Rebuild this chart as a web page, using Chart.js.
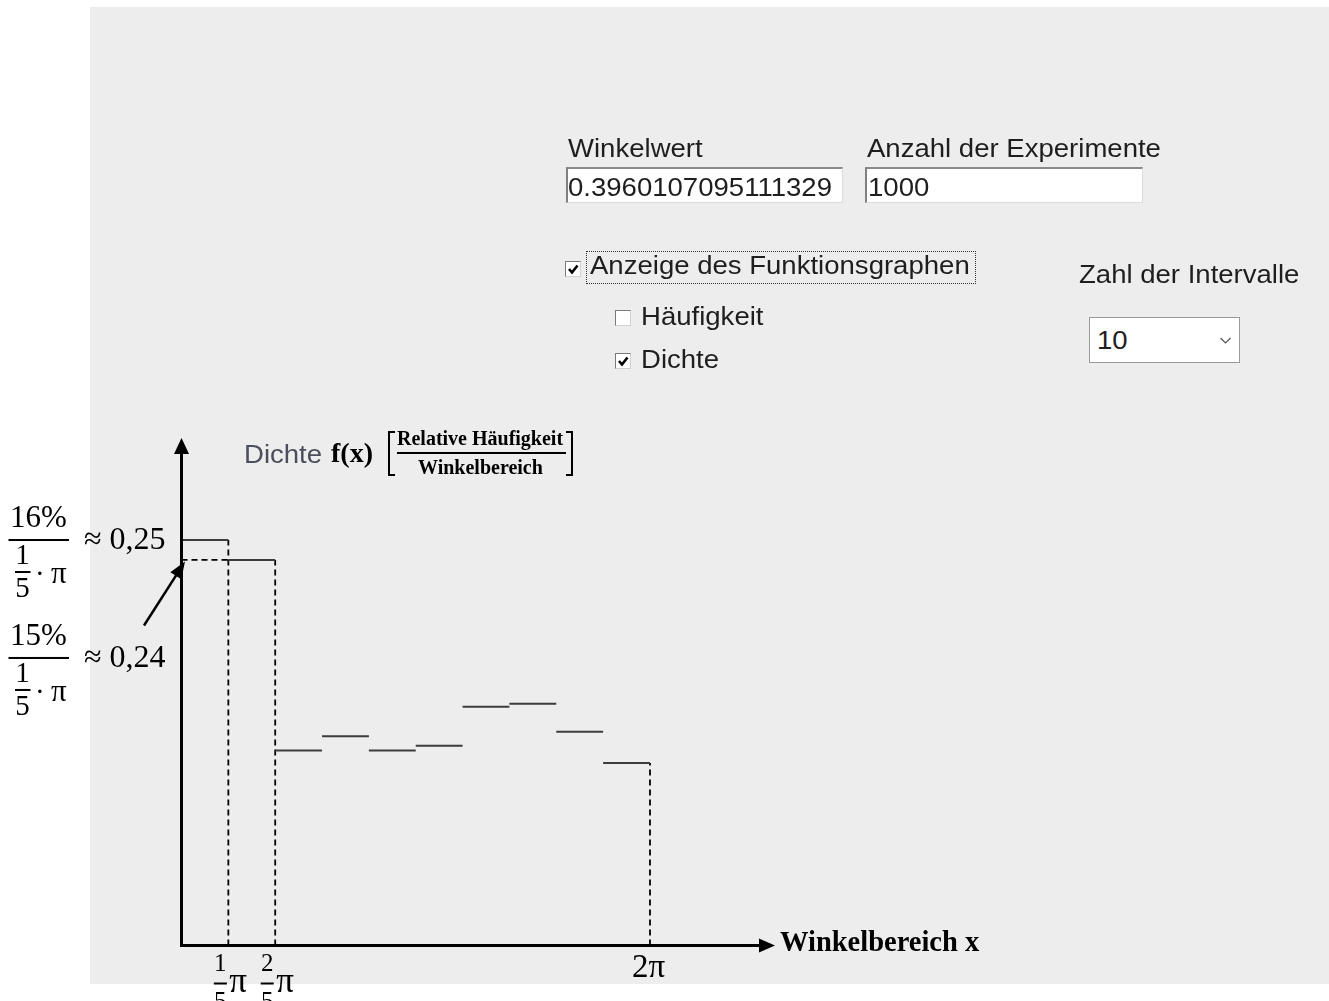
<!DOCTYPE html>
<html><head><meta charset="utf-8">
<script src="https://cdn.jsdelivr.net/npm/chart.js@4.4.0/dist/chart.umd.min.js"></script>
<style>
html,body{margin:0;padding:0;background:#fff;width:1329px;height:1001px;overflow:hidden;position:relative}
#panel{position:absolute;left:90px;top:7px;width:1239px;height:977px;background:#ededed}
#c{position:absolute;left:0;top:0}
.t{position:absolute;font-family:"Liberation Sans",Arial,sans-serif;font-size:25.5px;line-height:25.5px;color:#1e1e1e;white-space:nowrap;transform:scaleX(1.08);transform-origin:0 0}
.s{position:absolute;font-family:"Liberation Serif","Times New Roman",serif;font-weight:bold;color:#000;white-space:nowrap}
.box{position:absolute;background:#fff;box-sizing:border-box}
.tb{border-top:2px solid #8a8a8a;border-left:2px solid #808080;border-right:1px solid #dcdcdc;border-bottom:1px solid #dcdcdc}
.cb{position:absolute;width:16px;height:16px;box-sizing:border-box;background:#fff;border-top:1px solid #7a7a7a;border-left:1px solid #7a7a7a;border-right:1px solid #d0d0d0;border-bottom:1px solid #d0d0d0}
.cb svg{position:absolute;left:1px;top:1px}
.br{position:absolute;box-sizing:border-box;border-top:2px solid #000;border-bottom:2px solid #000}
</style></head>
<body>
<div id="panel"></div>
<canvas id="c" width="1329" height="1001"></canvas>

<span class="t" style="left:568px;top:136.4px">Winkelwert</span>
<span class="t" style="left:867px;top:136.4px">Anzahl der Experimente</span>
<div class="box tb" style="left:566px;top:167px;width:277px;height:36px"></div>
<div class="box tb" style="left:865px;top:167px;width:278px;height:36px"></div>
<span class="t" style="left:568px;top:175.4px">0.3960107095111329</span>
<span class="t" style="left:868px;top:175.4px">1000</span>

<div class="cb" style="left:565px;top:261px"><svg width="13" height="13"><polyline points="2,6 5,9.5 10.5,2.5" fill="none" stroke="#000" stroke-width="2.6"/></svg></div>
<div style="position:absolute;left:586px;top:251px;width:390px;height:33px;box-sizing:border-box;border:1px dotted #333"></div>
<span class="t" style="left:590px;top:252.9px">Anzeige des Funktionsgraphen</span>

<div class="cb" style="left:615px;top:310px"></div>
<span class="t" style="left:641px;top:304.4px">Häufigkeit</span>
<div class="cb" style="left:615px;top:353px"><svg width="13" height="13"><polyline points="2,6 5,9.5 10.5,2.5" fill="none" stroke="#000" stroke-width="2.6"/></svg></div>
<span class="t" style="left:641px;top:347.4px">Dichte</span>

<span class="t" style="left:1079px;top:262.4px">Zahl der Intervalle</span>
<div class="box" style="left:1089px;top:317px;width:151px;height:46px;border:1px solid #9a9a9a"></div>
<span class="t" style="left:1097px;top:328.4px">10</span>
<svg style="position:absolute;left:1219px;top:336px" width="14" height="10"><polyline points="1.5,2 6.5,7 11.5,2" fill="none" stroke="#555" stroke-width="1.2"/></svg>

<span class="t" style="left:244px;top:441.7px;color:#4b4f5c">Dichte</span>
<span class="s" style="left:331px;top:438.5px;font-size:28px;line-height:28px">f(x)</span>
<div class="br" style="left:388px;top:431px;width:7px;height:45px;border-left:2px solid #000"></div>
<div class="br" style="left:566px;top:431px;width:7px;height:45px;border-right:2px solid #000"></div>
<span class="s" style="left:397px;top:428.3px;font-size:20px;line-height:20px">Relative Häufigkeit</span>
<div style="position:absolute;left:397px;top:452px;width:169px;height:2px;background:#000"></div>
<span class="s" style="left:418px;top:456.5px;font-size:20px;line-height:20px">Winkelbereich</span>

<script>
const PI = Math.PI;
const intervalCount = 10;
const densities = [0.2500, 0.2377, 0.1203, 0.1290, 0.1203, 0.1232, 0.1472, 0.1491, 0.1318, 0.1125];
const yTickPercents = ['16%', '15%'];
const yTickApprox = ['0,25', '0,24'];
const yTickDenominator = ['1', '5', 'π'];
const xTickNumerators = ['1', '2'];
const xTickDenominator = '5';
const xTickLast = '2π';
const xAxisTitle = 'Winkelbereich x';

const w = 2 * PI / intervalCount;
const stepData = [];
densities.forEach((d, i) => {
  stepData.push({x: i * w, y: d}, {x: (i + 1) * w, y: d}, {x: (i + 1) * w, y: null});
});
const guideData = [
  {x: 0, y: densities[1]}, {x: w, y: densities[1]}, {x: w, y: null},
  {x: w, y: 0}, {x: w, y: densities[0]}, {x: w, y: null},
  {x: 2 * w, y: 0}, {x: 2 * w, y: densities[1]}, {x: 2 * w, y: null},
  {x: 2 * PI, y: 0}, {x: 2 * PI, y: densities[intervalCount - 1]}
];

const SERIF = '"Liberation Serif","Times New Roman",serif';

const decor = {
  id: 'decor',
  afterDatasetsDraw(chart) {
    const {ctx, chartArea: a, scales: {x, y}} = chart;
    const x0 = x.getPixelForValue(0), y0 = y.getPixelForValue(0);
    ctx.save();
    ctx.fillStyle = '#000'; ctx.strokeStyle = '#000';
    ctx.lineWidth = 3;
    ctx.beginPath(); ctx.moveTo(x0, y0 + 1.5); ctx.lineTo(x0, a.top + 12); ctx.stroke();
    ctx.beginPath(); ctx.moveTo(x0, a.top); ctx.lineTo(x0 - 7.5, a.top + 16); ctx.lineTo(x0 + 7.5, a.top + 16); ctx.closePath(); ctx.fill();
    ctx.beginPath(); ctx.moveTo(x0 - 1.5, y0); ctx.lineTo(a.right - 12, y0); ctx.stroke();
    ctx.beginPath(); ctx.moveTo(a.right, y0); ctx.lineTo(a.right - 16, y0 - 7); ctx.lineTo(a.right - 16, y0 + 7); ctx.closePath(); ctx.fill();

    const bars = [y.getPixelForValue(densities[0]), y.getPixelForValue(densities[1]) + 98];
    bars.forEach((yb, i) => {
      ctx.textBaseline = 'alphabetic';
      ctx.textAlign = 'center';
      ctx.font = '31px ' + SERIF;
      ctx.fillText(yTickPercents[i], 38.5, yb - 13);
      ctx.fillRect(8.5, yb - 1, 60.5, 2);
      ctx.font = '29px ' + SERIF;
      ctx.fillText(yTickDenominator[0], 22.5, yb + 24);
      ctx.fillRect(15, yb + 31, 15.5, 2);
      ctx.fillText(yTickDenominator[1], 22.5, yb + 57);
      ctx.textAlign = 'left';
      ctx.fillText('·', 35, yb + 43);
      ctx.font = '31px ' + SERIF;
      ctx.fillText(yTickDenominator[2], 51, yb + 43);
      ctx.font = '32px ' + SERIF;
      ctx.fillText('≈ ' + yTickApprox[i], 84, yb + 9);
    });

    const tipX = x0 + 3.5, tipY = y.getPixelForValue(densities[1]) + 1.5;
    const tailX = x0 - 37.5, tailY = tipY + 64;
    ctx.lineWidth = 2.5;
    const ang = Math.atan2(tipY - tailY, tipX - tailX);
    ctx.beginPath(); ctx.moveTo(tailX, tailY); ctx.lineTo(tipX - 12 * Math.cos(ang), tipY - 12 * Math.sin(ang)); ctx.stroke();
    ctx.beginPath(); ctx.moveTo(tipX, tipY);
    ctx.lineTo(tipX - 17 * Math.cos(ang) + 6.5 * Math.sin(ang), tipY - 17 * Math.sin(ang) - 6.5 * Math.cos(ang));
    ctx.lineTo(tipX - 17 * Math.cos(ang) - 6.5 * Math.sin(ang), tipY - 17 * Math.sin(ang) + 6.5 * Math.cos(ang));
    ctx.closePath(); ctx.fill();

    xTickNumerators.forEach((n, i) => {
      const px = x.getPixelForValue((i + 1) * w);
      ctx.textAlign = 'center';
      ctx.font = '25px ' + SERIF;
      ctx.fillText(n, px - 8, y0 + 25);
      ctx.fillRect(px - 14.5, y0 + 37, 13, 2);
      ctx.fillText(xTickDenominator, px - 8, y0 + 63);
      ctx.textAlign = 'left';
      ctx.font = '35px ' + SERIF;
      ctx.fillText('π', px + 1, y0 + 46);
    });
    ctx.textAlign = 'center';
    ctx.font = '33px ' + SERIF;
    ctx.fillText(xTickLast, x.getPixelForValue(2 * PI) - 1.5, y0 + 31);

    ctx.textAlign = 'left';
    ctx.font = 'bold 28.5px ' + SERIF;
    ctx.fillText(xAxisTitle, a.right + 5, y0 + 5.5);
    ctx.restore();
  }
};

new Chart(document.getElementById('c'), {
  type: 'scatter',
  data: {
    datasets: [
      {data: stepData, showLine: true, borderColor: '#3c3c3c', borderWidth: 2, pointRadius: 0, spanGaps: false},
      {data: guideData, showLine: true, borderColor: '#000', borderWidth: 1.8, borderDash: [6, 4], pointRadius: 0, spanGaps: false}
    ]
  },
  options: {
    responsive: false,
    animation: false,
    devicePixelRatio: 1,
    layout: {padding: {left: 181.5, top: 438, right: 554, bottom: 55.5}},
    scales: {
      x: {type: 'linear', min: 0, max: 7.96, display: false},
      y: {type: 'linear', min: 0, max: 0.3129, display: false}
    },
    plugins: {legend: {display: false}, tooltip: {enabled: false}}
  },
  plugins: [decor]
});
</script>
</body></html>
